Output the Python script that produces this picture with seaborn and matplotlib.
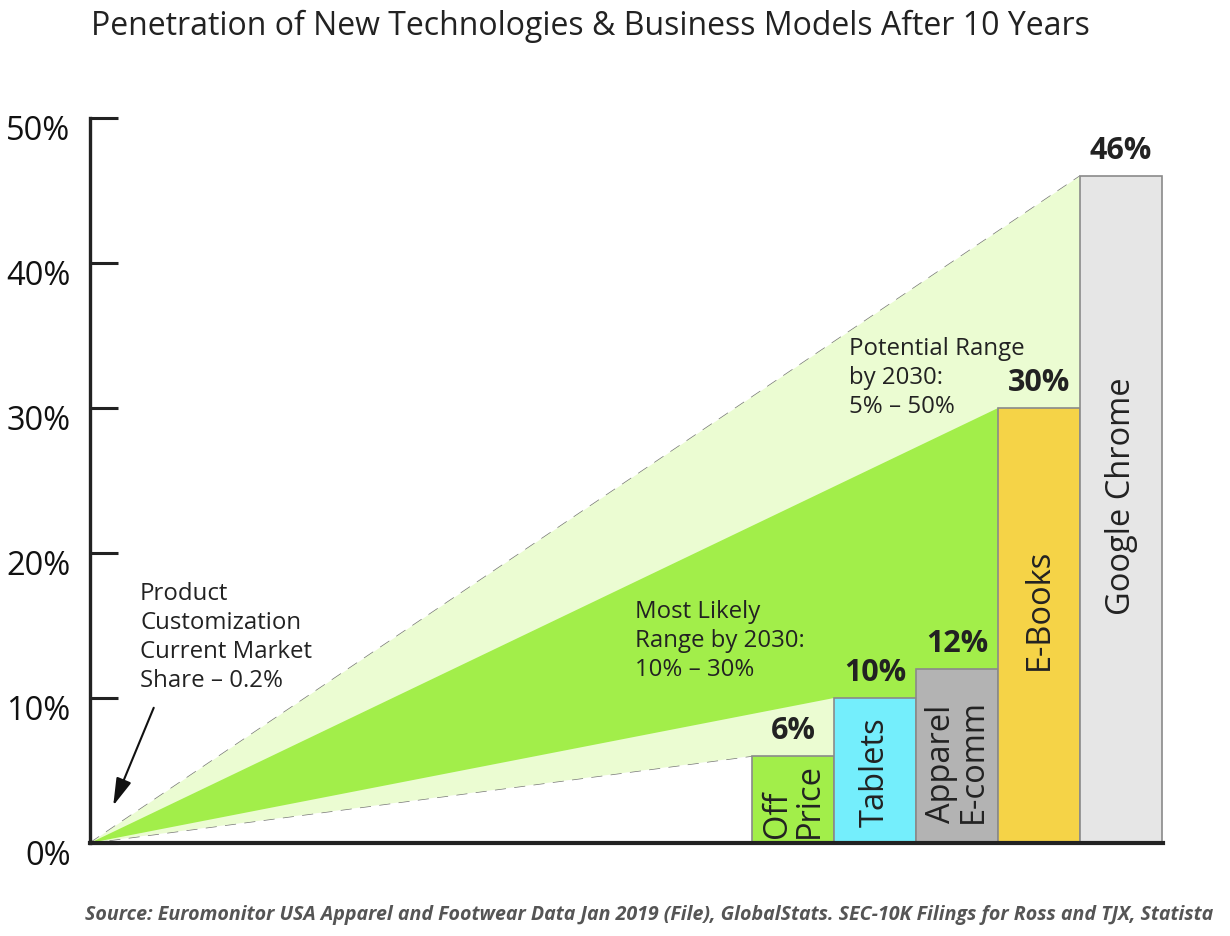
import matplotlib
matplotlib.use("Agg")
import matplotlib.pyplot as plt
import matplotlib.transforms as mtransforms
import seaborn as sns
import pandas as pd

# ---- data ----
categories = ["Off\nPrice", "Tablets", "Apparel\nE-comm", "E-Books", "Google Chrome"]
values = [6, 10, 12, 30, 46]
value_labels = ["6%", "10%", "12%", "30%", "46%"]
bar_colors = ["#A2EE4A", "#74EEFC", "#B3B3B3", "#F5D347", "#E6E6E6"]
yticks = [0, 10, 20, 30, 40, 50]
ytick_labels = ["0%", "10%", "20%", "30%", "40%", "50%"]
title = "Penetration of New Technologies & Business Models After 10 Years"
source = ("Source: Euromonitor USA Apparel and Footwear Data Jan 2019 (File), GlobalStats. "
          "SEC-10K Filings for Ross and TJX, Statista")
potential_lines = ["Potential Range", "by 2030:", "5% \u2013 50%"]
likely_lines = ["Most Likely", "Range by 2030:", "10% \u2013 30%"]
custom_lines = ["Product", "Customization", "Current Market", "Share \u2013 0.2%"]
current_share = 0.2

sns.set_theme(style="white")
plt.rcParams["font.family"] = ["Open Sans", "DejaVu Sans"]

first_left = 8.08
lefts = [first_left + i for i in range(len(categories))]
df = pd.DataFrame({"pos": [l + 0.5 for l in lefts], "value": values, "cat": categories})

fig = plt.figure(figsize=(12.3, 9.36), dpi=100)
ax = fig.add_axes([0.0732, 0.0994, 0.8723, 0.7746])

LIGHT = "#EBFCD2"
DARK = "#A2EE4A"

# Potential range (light) polygon
ax.fill([0, lefts[4], lefts[4], lefts[0], lefts[0]],
        [0, values[4], 0, 0, values[0]], color=LIGHT, lw=0, zorder=1)
ax.plot([0, lefts[4]], [0, values[4]], color="#777777", lw=1, ls=(0, (8, 6)), zorder=2)
ax.plot([0, lefts[0]], [0, values[0]], color="#777777", lw=1, ls=(0, (8, 6)), zorder=2)

# Most likely (dark) polygon
ax.fill([0, lefts[3], lefts[3], lefts[1], lefts[1]],
        [0, values[3], 0, 0, values[1]], color=DARK, lw=0, zorder=3)
ax.plot([0, lefts[3]], [0, values[3]], color="#666666", lw=0.9, zorder=4)
ax.plot([0, lefts[1]], [0, values[1]], color="#666666", lw=0.9, zorder=4)

sns.barplot(data=df, x="pos", y="value", hue="cat", palette=dict(zip(categories, bar_colors)),
            native_scale=True, width=1, dodge=False, saturation=1, edgecolor="#8a8a8a",
            linewidth=1.2, legend=False, ax=ax, zorder=5)
for p in ax.patches:
    p.set_zorder(5)

# value labels above bars
for l, v, t in zip(lefts, values, value_labels):
    ax.text(l + 0.5, v + 1.75, t, ha="center", va="center", fontsize=22, fontweight="bold",
            color="#222222", zorder=7)

# vertical labels inside bars
inner_y = [0.35, 4.9, 5.65, 16.1, 23.9]
inner_va = ["bottom", "center", "center", "center", "center"]
for l, c, y, va in zip(lefts, categories, inner_y, inner_va):
    ax.text(l + 0.5, y, c, rotation=90, ha="center", va=va, fontsize=23.5, color="#222222",
            multialignment="left", linespacing=0.95, zorder=7)


def text_block(x, y, lines):
    for i, line in enumerate(lines):
        ax.annotate(line, xy=(x, y), xytext=(0, -20.9 * i), textcoords="offset points",
                    ha="left", va="center", fontsize=17.3, color="#222222", zorder=7)


text_block(9.26, 34.05, potential_lines)
text_block(6.65, 15.9, likely_lines)
text_block(0.61, 17.15, custom_lines)

ax.annotate("", xy=(0.27, current_share + 2.2), xytext=(0.79, 9.5),
            arrowprops=dict(arrowstyle="-|>,head_length=1.4,head_width=0.4", color="#111111",
                            lw=1.5), zorder=7)

ax.set_xlim(0, 13.09)
ax.set_ylim(0, 50)
ax.set_yticks(yticks)
ax.set_yticklabels(ytick_labels, fontsize=23.5, color="#111111")
ax.set_xticks([])
ax.set_xlabel("")
ax.set_ylabel("")
ax.tick_params(axis="y", direction="in", length=20, width=2.2, color="#222222", pad=14, left=True)
offset = mtransforms.ScaledTranslation(0, -10 / 100, fig.dpi_scale_trans)
for lab in ax.get_yticklabels():
    lab.set_transform(lab.get_transform() + offset)
for s in ["top", "right"]:
    ax.spines[s].set_visible(False)
ax.spines["left"].set_color("#222222")
ax.spines["left"].set_linewidth(2.4)
ax.spines["bottom"].set_color("#222222")
ax.spines["bottom"].set_linewidth(3)
ax.spines["left"].set_zorder(8)
ax.spines["bottom"].set_zorder(8)

fig.text(0.48, 0.972, title, ha="center", va="center", fontsize=23, color="#222222")
fig.text(0.986, 0.012, source, ha="right", va="bottom", fontsize=14.15, fontstyle="italic",
         fontweight="bold", color="#555555")

fig.savefig("out.png", dpi=100)
